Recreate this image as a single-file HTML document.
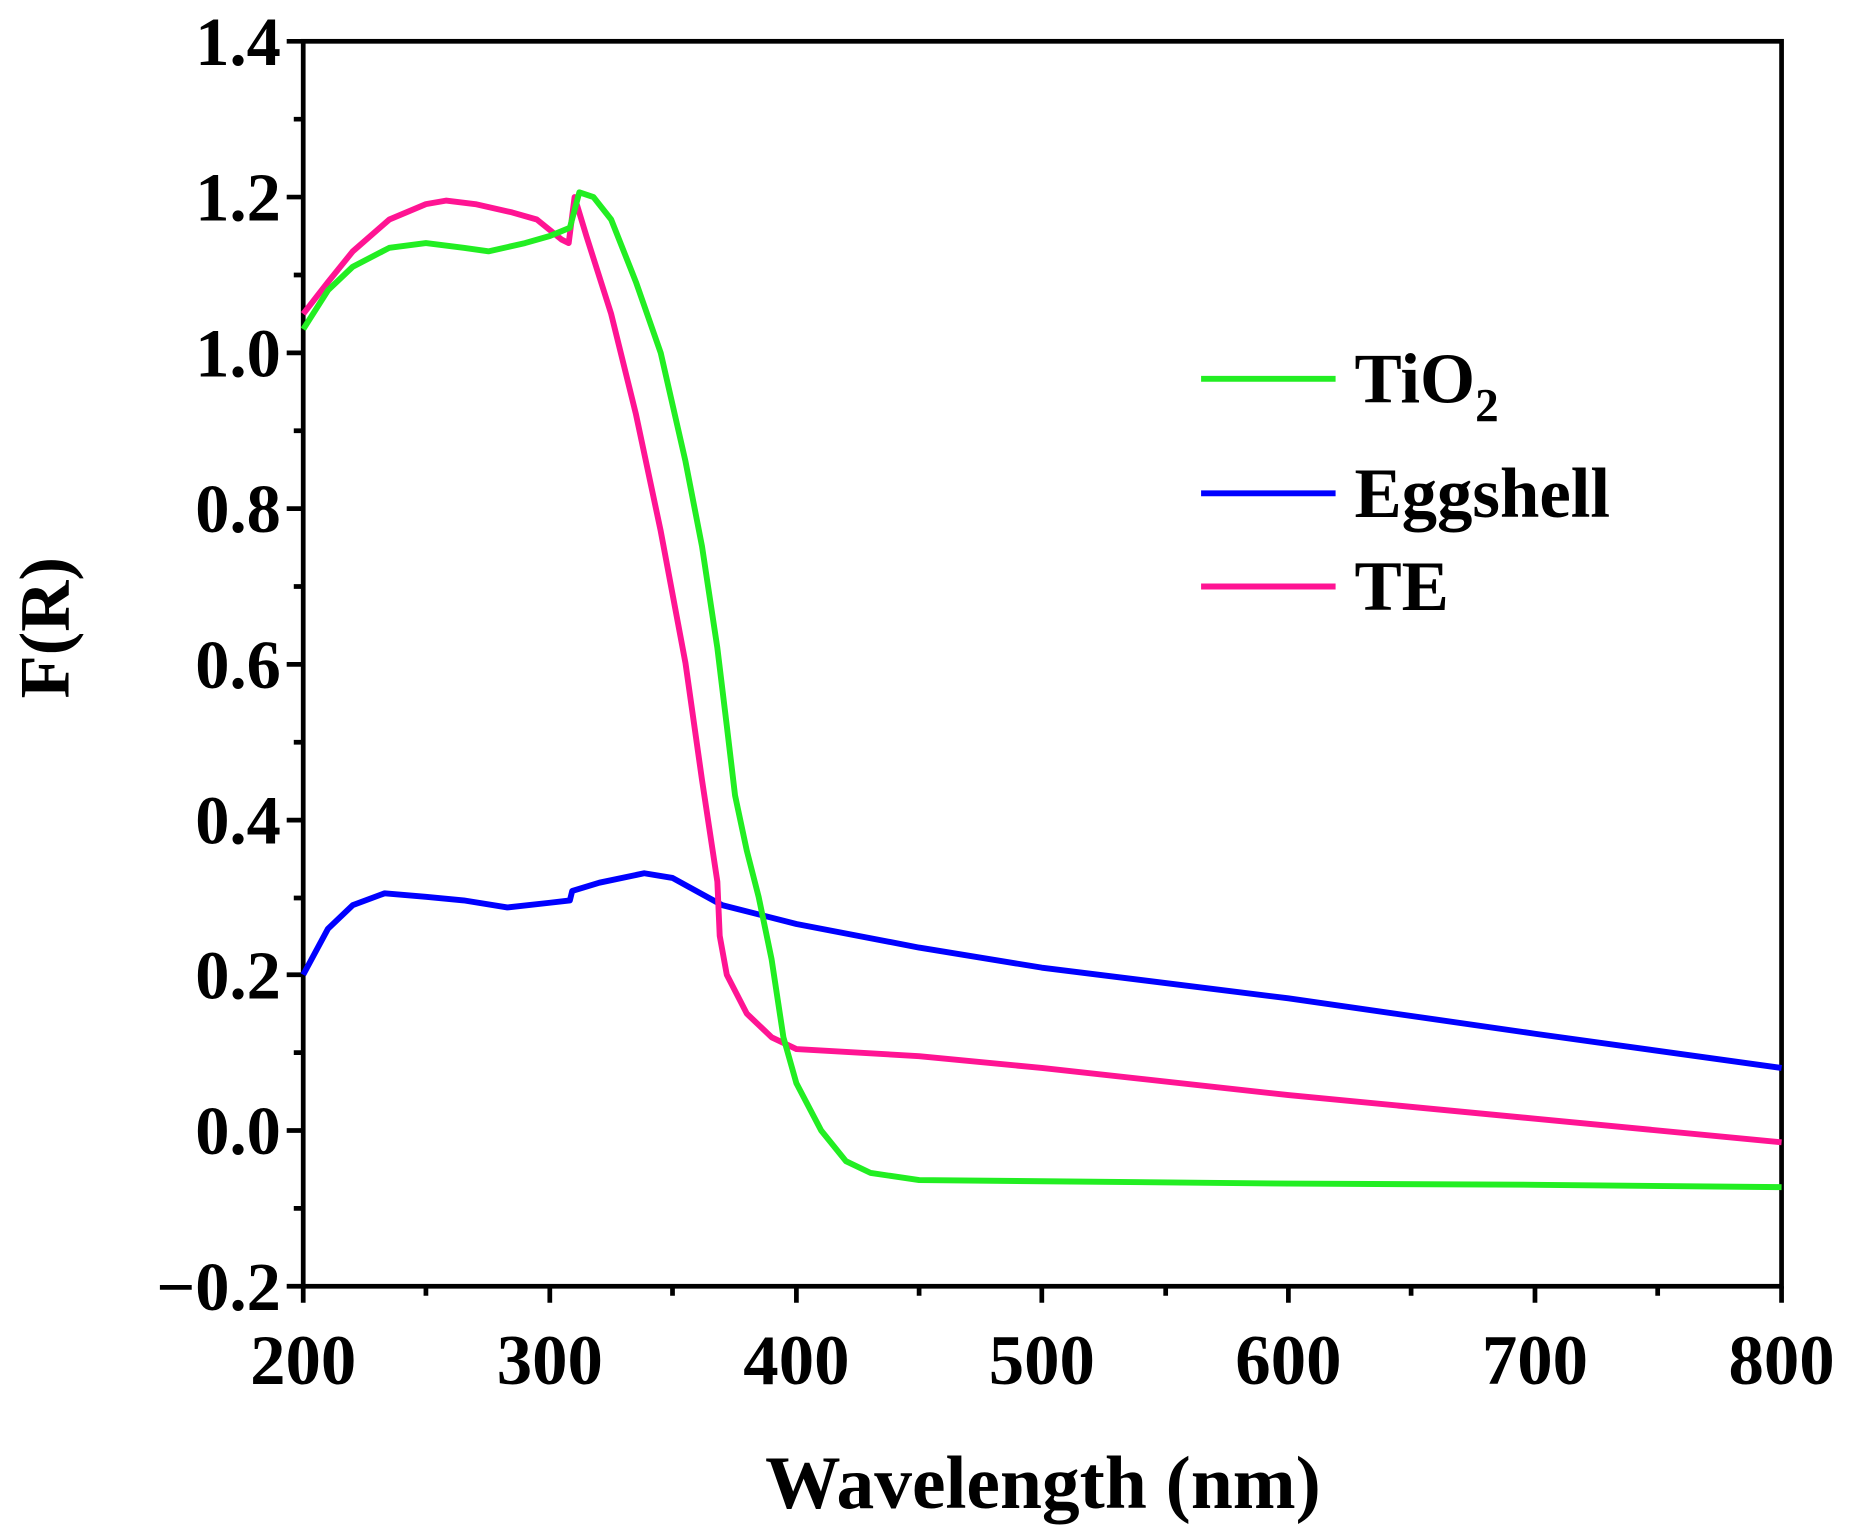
<!DOCTYPE html>
<html><head><meta charset="utf-8"><style>html,body{margin:0;padding:0;background:#fff}svg{display:block}</style></head>
<body>
<svg width="1850" height="1527" viewBox="0 0 1568 1294" preserveAspectRatio="none" xmlns="http://www.w3.org/2000/svg" font-family="'Liberation Serif',serif" font-weight="bold">
<rect x="0" y="0" width="1568" height="1294" fill="#fff"/>
<g stroke="#000" stroke-width="4" fill="none">
<rect x="257" y="35" width="1253" height="1055"/>
<path d="M257,1090v14M466,1090v14M675,1090v14M883,1090v14M1092,1090v14M1301,1090v14M1510,1090v14"/>
<path d="M361,1090v8M570,1090v8M779,1090v8M988,1090v8M1196,1090v8M1405,1090v8"/>
<path d="M257,35h-14M257,167h-14M257,299h-14M257,431h-14M257,563h-14M257,695h-14M257,826h-14M257,958h-14M257,1090h-14"/>
<path d="M257,101h-8M257,233h-8M257,365h-8M257,497h-8M257,629h-8M257,761h-8M257,892h-8M257,1024h-8"/>
</g>
<g font-size="58" text-anchor="end">
<text x="238" y="55">1.4</text><text x="238" y="187">1.2</text><text x="238" y="319">1.0</text><text x="238" y="451">0.8</text><text x="238" y="583">0.6</text><text x="238" y="715">0.4</text><text x="238" y="846">0.2</text><text x="238" y="978">0.0</text><text x="238" y="1110">−0.2</text>
</g>
<g font-size="60" text-anchor="middle">
<text x="257" y="1173">200</text><text x="466" y="1173">300</text><text x="675" y="1173">400</text><text x="883" y="1173">500</text><text x="1092" y="1173">600</text><text x="1301" y="1173">700</text><text x="1510" y="1173">800</text>
<text x="884" y="1278" font-size="64">Wavelength (nm)</text>
<text transform="translate(58,532) rotate(-90)" font-size="60">F(R)</text>
</g>
<g fill="none" stroke-width="5" stroke-linejoin="round">
<polyline stroke="#0000ff" points="257,826 278,787 299,767 326,757 361,760 393,763 430,769 466,765 483,763 485,755 508,748 546,740 570,744 612,767 675,783 779,803 883,820 1092,846 1301,876 1510,905"/>
<polyline stroke="#ff1493" points="257,266 278,239 299,213 330,186 361,173 378,170 403,173 434,180 455,186 476,203 482,206 487,167 497,200 518,266 539,351 560,450 581,562 595,661 608,747 610,793 616,826 633,859 654,879 675,889 779,895 883,905 1092,928 1301,948 1510,968"/>
<polyline stroke="#22ee22" points="257,279 278,246 299,226 330,210 361,206 393,210 414,213 445,206 466,200 483,193 491,163 503,167 518,186 539,239 560,299 581,391 595,463 608,549 616,615 623,674 633,721 643,760 654,813 664,879 675,918 696,958 717,984 738,994 779,1000 883,1001 1092,1003 1301,1004 1510,1006"/>
</g>
<g stroke-width="5">
<line x1="1018" y1="321" x2="1132" y2="321" stroke="#22ee22"/>
<line x1="1018" y1="418" x2="1132" y2="418" stroke="#0000ff"/>
<line x1="1018" y1="497" x2="1132" y2="497" stroke="#ff1493"/>
</g>
<g font-size="60">
<text x="1148" y="341">TiO<tspan font-size="40" dy="16">2</tspan></text>
<text x="1148" y="438">Eggshell</text>
<text x="1148" y="517">TE</text>
</g>
</svg>
</body></html>
